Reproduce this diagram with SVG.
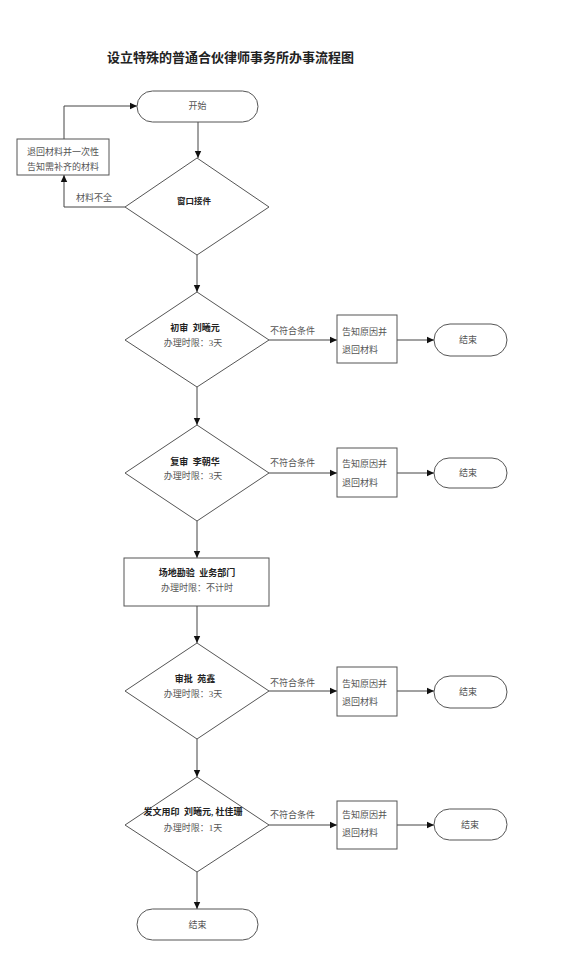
<svg xmlns="http://www.w3.org/2000/svg" width="576" height="966" viewBox="0 0 576 966">
<defs>
<marker id="arr" markerWidth="8" markerHeight="8" refX="7" refY="4" orient="auto" markerUnits="userSpaceOnUse">
<path d="M0,0.8 L7,4 L0,7.2 Z" fill="#111"/>
</marker>
<style>
.shape{fill:#fff;stroke:#555;stroke-width:1}
.conn{fill:none;stroke:#444;stroke-width:1;marker-end:url(#arr)}
text{font-family:"Liberation Serif","Noto Sans CJK SC",serif;font-size:9px;fill:#555;white-space:pre}
.b{font-weight:bold;fill:#222}
.c{text-anchor:middle}
.t{font-size:13px;font-weight:bold;fill:#222}
</style>
</defs>
<rect width="576" height="966" fill="#fff"/>
<text class="t" x="107" y="62">设立特殊的普通合伙律师事务所办事流程图</text>

<g id="connectors">
<path class="conn" d="M198,122 V158"/>
<path class="conn" d="M125,207 H64 V175"/>
<path class="conn" d="M64,139 V106 H137"/>
<path class="conn" d="M197,255 V292"/>
<path class="conn" d="M269,340 H337"/>
<path class="conn" d="M397,340 H434"/>
<path class="conn" d="M197,387 V425"/>
<path class="conn" d="M269,473 H337"/>
<path class="conn" d="M397,473 H434"/>
<path class="conn" d="M197,521 V558"/>
<path class="conn" d="M197,606 V643"/>
<path class="conn" d="M269,691 H337"/>
<path class="conn" d="M397,691 H434"/>
<path class="conn" d="M197,739 V777"/>
<path class="conn" d="M269,825 H337"/>
<path class="conn" d="M397,825 H434"/>
<path class="conn" d="M197,872 V909"/>
<text x="76" y="201">材料不全</text>
<text x="270" y="334">不符合条件</text>
<text x="270" y="466">不符合条件</text>
<text x="270" y="686">不符合条件</text>
<text x="270" y="818">不符合条件</text>
</g>

<g id="start">
<rect class="shape" x="137" y="91" width="121" height="31" rx="15.5"/>
<text class="c" x="197.5" y="109">开始</text>
</g>

<g id="return-box">
<rect class="shape" x="17" y="139" width="92" height="36"/>
<text class="c" x="63" y="155">退回材料并一次性</text>
<text class="c" x="63" y="170">告知需补齐的材料</text>
</g>

<g id="window">
<path class="shape" d="M197,158 L269,207 L197,255 L125,207 Z"/>
<text class="c b" x="194" y="204" style="font-size:8.5px">窗口接件</text>
</g>

<g id="review1">
<path class="shape" d="M197,292 L269,340 L197,387 L125,340 Z"/>
<text class="c b" x="195" y="331">初审  刘曦元</text>
<text class="c" x="193" y="346">办理时限：3天</text>
</g>
<g id="reject1">
<rect class="shape" x="337" y="315" width="60" height="48"/>
<text x="342" y="335">告知原因并</text>
<text x="342" y="353">退回材料</text>
</g>
<g id="end1">
<rect class="shape" x="434" y="324" width="73" height="32" rx="16"/>
<text class="c" x="468" y="343">结束</text>
</g>

<g id="review2">
<path class="shape" d="M197,425 L269,473 L197,521 L125,473 Z"/>
<text class="c b" x="195" y="465">复审  李朝华</text>
<text class="c" x="193" y="479">办理时限：3天</text>
</g>
<g id="reject2">
<rect class="shape" x="337" y="448" width="60" height="49"/>
<text x="342" y="467">告知原因并</text>
<text x="342" y="486">退回材料</text>
</g>
<g id="end2">
<rect class="shape" x="434" y="458" width="73" height="30" rx="15"/>
<text class="c" x="468" y="476">结束</text>
</g>

<g id="site-check">
<rect class="shape" x="124" y="558" width="145" height="48"/>
<text class="c b" x="197" y="576">场地勘验  业务部门</text>
<text class="c" x="197" y="591">办理时限：不计时</text>
</g>

<g id="approve">
<path class="shape" d="M197,643 L269,691 L197,739 L125,691 Z"/>
<text class="c b" x="195" y="682">审批  苑鑫</text>
<text class="c" x="193" y="697">办理时限：3天</text>
</g>
<g id="reject3">
<rect class="shape" x="337" y="667" width="60" height="49"/>
<text x="342" y="687">告知原因并</text>
<text x="342" y="705">退回材料</text>
</g>
<g id="end3">
<rect class="shape" x="434" y="676" width="73" height="32" rx="16"/>
<text class="c" x="468" y="695">结束</text>
</g>

<g id="seal">
<path class="shape" d="M197,777 L269,825 L197,872 L125,825 Z"/>
<text class="c b" x="193" y="815">发文用印  刘曦元, 杜佳珊</text>
<text class="c" x="193" y="831">办理时限：1天</text>
</g>
<g id="reject4">
<rect class="shape" x="337" y="801" width="60" height="48"/>
<text x="342" y="818">告知原因并</text>
<text x="342" y="836">退回材料</text>
</g>
<g id="end4">
<rect class="shape" x="434" y="809" width="73" height="31" rx="15.5"/>
<text class="c" x="470" y="828">结束</text>
</g>

<g id="end-final">
<rect class="shape" x="137" y="909" width="121" height="31" rx="15.5"/>
<text class="c" x="197.5" y="928">结束</text>
</g>
</svg>
